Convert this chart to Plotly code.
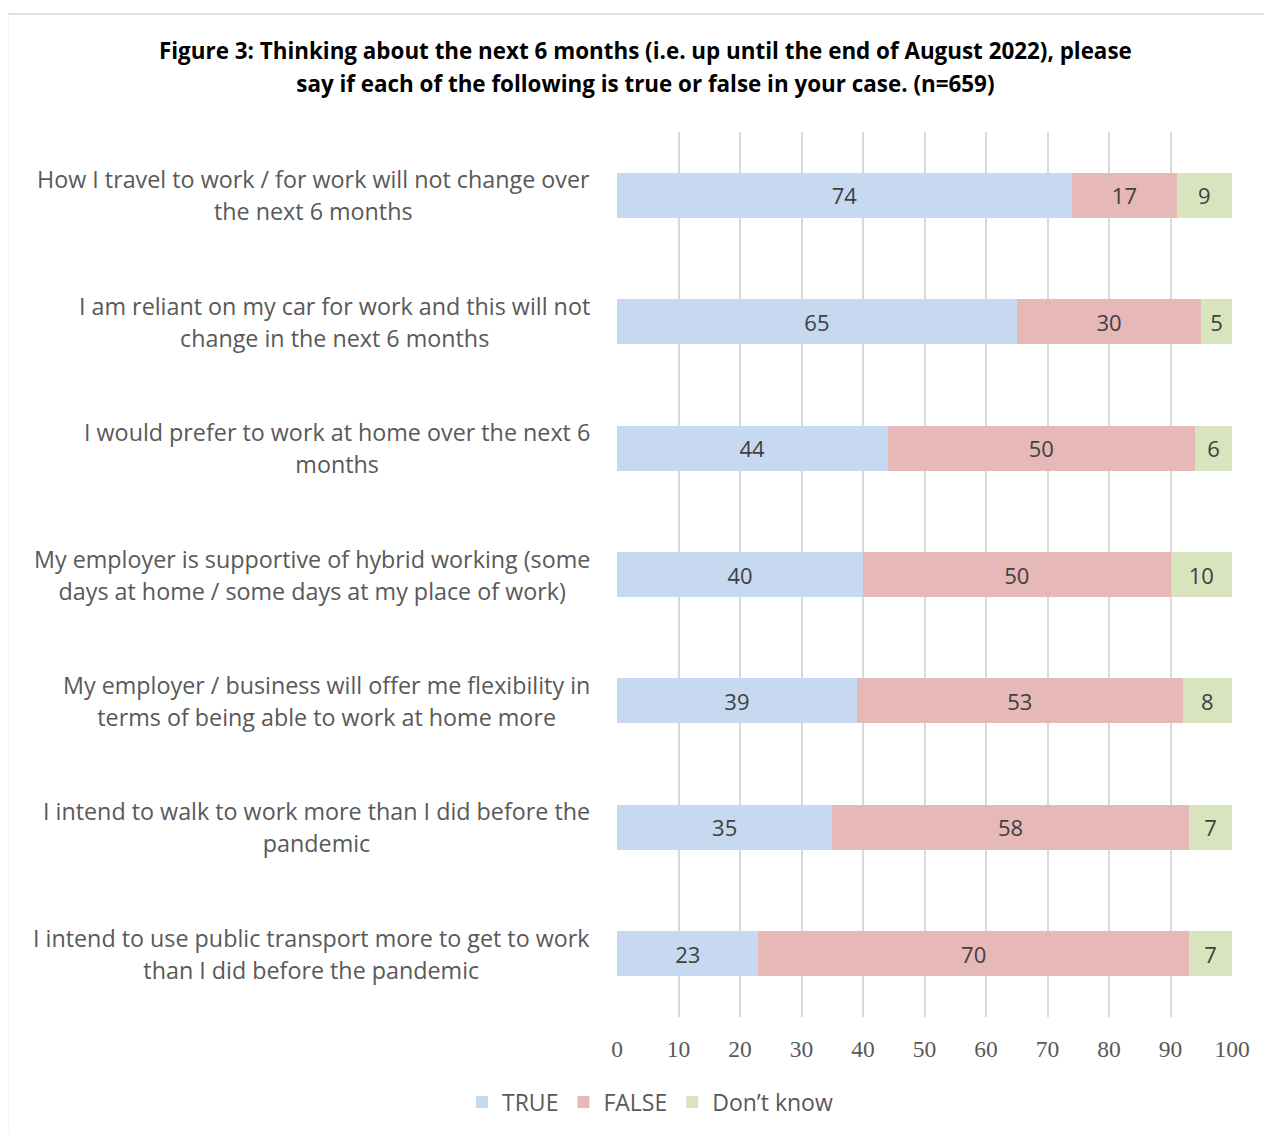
import plotly.graph_objects as go

categories = [
    "How I travel to work / for work will not change over<br>the next 6 months",
    "I am reliant on my car for work and this will not<br>change in the next 6 months",
    "I would prefer to work at home over the next 6<br>months",
    "My employer is supportive of hybrid working (some<br>days at home / some days at my place of work)",
    "My employer / business will offer me flexibility in<br>terms of being able to work at home more",
    "I intend to walk to work more than I did before the<br>pandemic",
    "I intend to use public transport more to get to work<br>than I did before the pandemic",
]
true_vals = [74, 65, 44, 40, 39, 35, 23]
false_vals = [17, 30, 50, 50, 53, 58, 70]
dk_vals = [9, 5, 6, 10, 8, 7, 7]
series_names = ["TRUE", "FALSE", "Don\u2019t know"]
series_colors = ["#c6d9f1", "#e6b8b7", "#d7e4bd"]
x_ticks = [0, 10, 20, 30, 40, 50, 60, 70, 80, 90, 100]
title_lines = [
    "Figure 3: Thinking about the next 6 months (i.e. up until the end of August 2022), please",
    "say if each of the following is true or false in your case. (n=659)",
]

W, H = 1272, 1133
OFF = 8  # page body margin offset
L, R, T, B = 617 - OFF, 1232 - OFF, 132 - OFF, 1017 - OFF

fig = go.Figure()
for name, vals, col in zip(series_names, [true_vals, false_vals, dk_vals], series_colors):
    fig.add_trace(go.Bar(
        y=categories, x=vals, name=name, orientation="h",
        marker=dict(color=col, line=dict(width=0)),
        text=vals, texttemplate="%{text}", textposition="inside",
        insidetextanchor="middle", textangle=0,
        textfont=dict(family="Open Sans", size=22, color="#404040"),
        hoverinfo="x+name",
    ))

def px_x(p):
    return (p - OFF - L) / (R - L)

def px_y(p):
    return 1 - (p - OFF - T) / (B - T)

annotations = []
for c in categories:
    txt = "<br>".join("<span style='font-size:23.3px'>%s</span>" % s for s in c.split("<br>"))
    annotations.append(dict(
        x=px_x(592), xref="paper", y=c, yref="y", text=txt, showarrow=False,
        xanchor="right", yanchor="middle", align="center",
        font=dict(family="Open Sans", size=32 / 1.3, color="#595959"),
    ))
title_txt = "<br>".join("<span style='font-size:22.4px'><b>%s</b></span>" % s for s in title_lines)
annotations.append(dict(
    x=px_x(645), xref="paper", y=px_y(67), yref="paper", text=title_txt,
    showarrow=False, xanchor="center", yanchor="middle", align="center",
    font=dict(family="Open Sans", size=33 / 1.3, color="#000000"),
))

fig.update_layout(
    width=W, height=H,
    margin=dict(l=L, r=W - R, t=T, b=H - B, pad=0),
    paper_bgcolor="white", plot_bgcolor="white",
    barmode="stack", bargap=0.644,
    showlegend=True,
    legend=dict(orientation="h", x=px_x(650), xanchor="center", y=px_y(1102), yanchor="middle",
                font=dict(family="Open Sans", size=23, color="#595959"), traceorder="normal",
                itemwidth=30),
    uniformtext=dict(minsize=18, mode="show"),
    annotations=annotations,
    shapes=[dict(type="rect", xref="paper", yref="paper",
                 x0=px_x(7.5), x1=px_x(1400), y0=px_y(1300), y1=px_y(14),
                 line=dict(color="#d9d9d9", width=1.5), fillcolor="rgba(0,0,0,0)", layer="below")],
    xaxis=dict(range=[0, 100], tickvals=x_ticks, showgrid=True, gridcolor="#d9d9d9", gridwidth=2,
               zeroline=False, showline=False, ticks="", ticklabelstandoff=15,
               tickfont=dict(family="Liberation Serif", size=23.5, color="#595959"), fixedrange=True),
    yaxis=dict(autorange="reversed", showticklabels=False, showgrid=False, zeroline=False,
               showline=False, ticks=""),
)

fig.write_html("out.html")
